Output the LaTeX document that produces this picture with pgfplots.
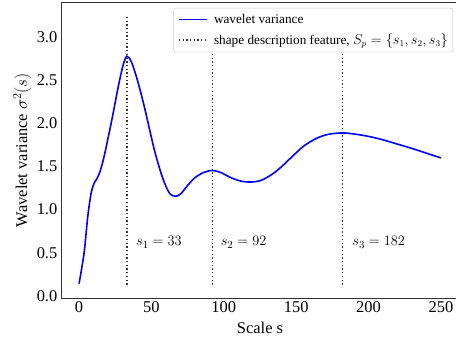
\documentclass[border=0pt]{standalone}
\usepackage{fontspec}
\setmainfont{Liberation Serif}
\usepackage{pgfplots}
\pgfplotsset{compat=1.18}
\begin{document}
\begin{tikzpicture}
\begin{axis}[
  at={(0,0)}, anchor=south west,
  scale only axis, width=398bp, height=296bp,
  xmin=-12.5, xmax=262.5, ymin=-0.026, ymax=3.41,
  xtick={0,50,...,250}, ytick={0,0.5,...,3.0},
  major tick length=0pt,
  /pgf/number format/assume math mode=true,
  tick label style={font=\fontsize{16.5}{19}\selectfont, inner sep=3.5bp},
  yticklabel style={/pgf/number format/fixed, /pgf/number format/fixed zerofill, /pgf/number format/precision=1},
  axis line style={black!80, line width=0.8bp},
  xlabel={Scale s},
  ylabel={Wavelet variance $\sigma^2(s)$},
  xlabel style={at={(rel axis cs:0.5,-0.1216)}, anchor=base, font=\fontsize{16.5}{19}\selectfont},
  ylabel style={at={(rel axis cs:-0.0854,0.5)}, anchor=base, font=\fontsize{16.5}{19}\selectfont},
  legend cell align=left,
  legend style={at={(rel axis cs:0.985,0.98)}, anchor=north east, draw=black!20, rounded corners=2bp, fill=white,
    font=\fontsize{13.3}{16}\selectfont, row sep=5bp, inner ysep=4bp},
]
\addlegendimage{legend image code/.code={\path (-2bp,0bp) (33bp,0bp); \draw[blue, line width=1.6bp] (0bp,0bp) -- (28bp,0bp);}}
\addlegendentry{wavelet variance}
\addlegendimage{legend image code/.code={\path (-2bp,0bp) (33bp,0bp); \draw[black!80, line width=1.3bp, dash pattern=on 1.3bp off 2.4bp] (0bp,0bp) -- (28bp,0bp);}}
\addlegendentry{shape description feature, $S_p = \{s_1, s_2, s_3\}$}
\addplot[blue, line width=1.6bp, smooth, tension=0.5, forget plot] coordinates {
(0,0.14) (2,0.34) (3.7,0.53) (6,0.92) (8.3,1.19) (10.5,1.31) (12,1.35) (14,1.42) (16,1.53)
(18,1.67) (20,1.83) (22,1.99) (24,2.16) (26.5,2.38) (29,2.58) (31,2.71) (33,2.78) (36,2.72) (40,2.52) (45,2.20)
(51.9,1.70) (56.5,1.43) (60,1.27) (63,1.18) (66.5,1.155) (70,1.18) (75,1.28) (80,1.37) (86,1.43)
(92,1.455) (98,1.43) (105,1.37) (112,1.33) (118.5,1.32) (125,1.335) (130,1.375) (135,1.43)
(140,1.50) (145,1.58) (150,1.66) (155,1.735) (160,1.79) (165,1.835) (170,1.865) (175,1.882) (182.5,1.89) (190,1.878)
(200,1.85) (210,1.81) (220,1.76) (230,1.71) (240,1.655) (250,1.60)
};
\addplot[black!80, line width=1.3bp, dash pattern=on 1.3bp off 2.4bp, forget plot] coordinates {(33,0.13) (33,3.25)};
\addplot[black!80, line width=1.3bp, dash pattern=on 1.3bp off 2.4bp, forget plot] coordinates {(92,0.13) (92,3.25)};
\addplot[black!80, line width=1.3bp, dash pattern=on 1.3bp off 2.4bp, forget plot] coordinates {(182,0.13) (182,3.25)};
\node[anchor=west, inner sep=0pt, font=\fontsize{15}{18}\selectfont] at (axis cs:39.3,0.62) {$s_1 = 33$};
\node[anchor=west, inner sep=0pt, font=\fontsize{15}{18}\selectfont] at (axis cs:97.8,0.62) {$s_2 = 92$};
\node[anchor=west, inner sep=0pt, font=\fontsize{15}{18}\selectfont] at (axis cs:188.7,0.62) {$s_3 = 182$};
\end{axis}
\pgfresetboundingbox
\useasboundingbox (-61bp,-44bp) rectangle (395bp,298bp);
\end{tikzpicture}
\end{document}
